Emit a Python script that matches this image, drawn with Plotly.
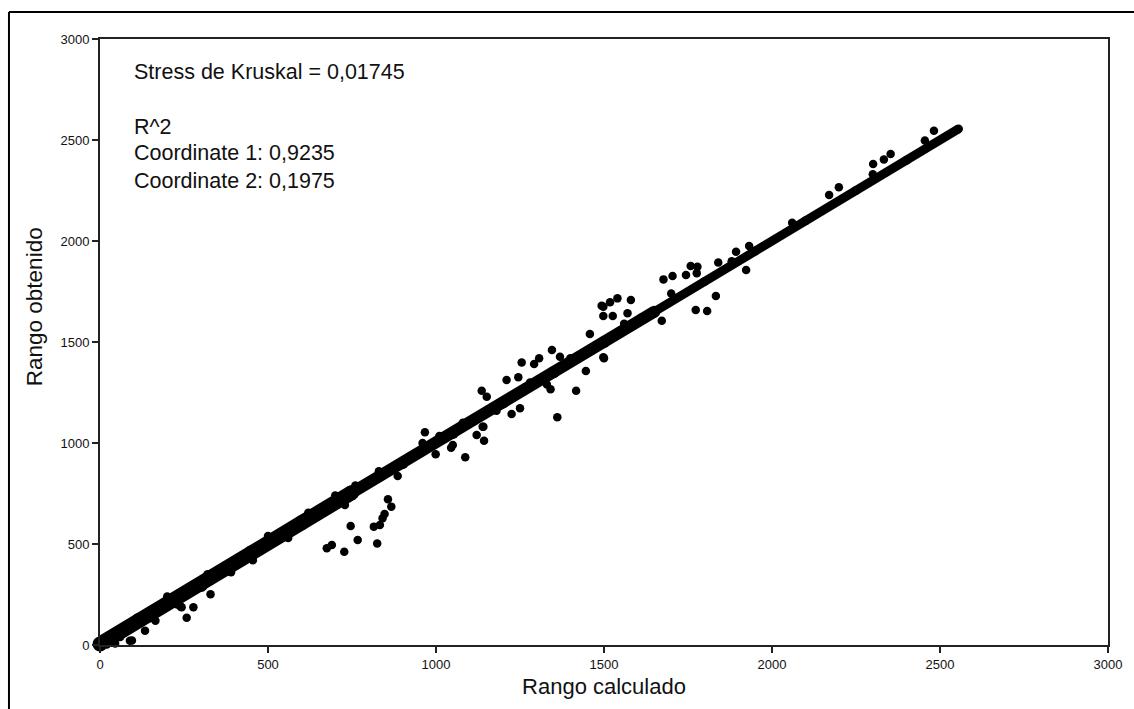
import plotly.graph_objects as go

# Dense diagonal band (centre line)
band_calc = [0, 150, 300, 450, 600, 750, 900, 1050, 1200, 1350, 1500, 1650, 1800, 1950, 2100, 2250, 2400, 2555]
band_obt = [5, 150, 300, 455, 605, 755, 900, 1050, 1200, 1350, 1500, 1650, 1800, 1950, 2100, 2250, 2400, 2555]

# Points at the edges of the band
edge_calc = [20, 45, 60, 95, 110, 165, 200, 230, 320, 390, 455, 500, 560, 620, 700, 760, 830, 960, 1010,
             1080, 1180, 1280, 1330, 1400, 1560, 1610, 1700, 1880, 2060, 2300]
edge_obt = [2, 8, 40, 22, 135, 120, 240, 200, 350, 360, 420, 540, 530, 655, 740, 790, 860, 1000, 1035,
            1100, 1160, 1300, 1290, 1420, 1590, 1620, 1740, 1900, 2090, 2330]

# Scattered points off the band
out_calc = [89, 134, 240, 243, 258, 278, 329,
            675, 690, 727, 746, 767, 815, 825, 833, 841, 847, 857, 867, 886, 729,
            967, 999, 1045, 1050, 1087, 1121, 1139, 1143, 1141, 1136, 1151, 1210, 1225, 1245, 1250,
            1255, 1292, 1307, 1345, 1369, 1341, 1417, 1361, 1446, 1458, 1500,
            1493, 1498, 1518, 1540, 1580, 1498, 1526, 1570, 1498,
            1677, 1704, 1744, 1758, 1776, 1778, 1840, 1893, 1932, 1923, 1833, 1773, 1807, 1672,
            2170, 2199, 2301, 2333, 2353, 2455, 2482]
out_obt = [21, 71, 190, 187, 135, 187, 251,
           479, 495, 462, 589, 520, 586, 503, 594, 627, 649, 721, 685, 837, 693,
           1053, 944, 977, 990, 929, 1040, 1081, 1011, 1081, 1259, 1229, 1312, 1144, 1325, 1172,
           1398, 1391, 1419, 1460, 1427, 1266, 1259, 1127, 1356, 1540, 1419,
           1680, 1675, 1697, 1716, 1708, 1629, 1629, 1642, 1424,
           1810, 1827, 1832, 1876, 1840, 1873, 1893, 1947, 1975, 1856, 1728, 1658, 1653, 1605,
           2228, 2266, 2381, 2404, 2431, 2497, 2546]

x_ticks = [0, 500, 1000, 1500, 2000, 2500, 3000]
y_ticks = [0, 500, 1000, 1500, 2000, 2500, 3000]

annot_lines = ["Stress de Kruskal = 0,01745", "R^2", "Coordinate 1: 0,9235", "Coordinate 2: 0,1975"]
x_title = "Rango calculado"
y_title = "Rango obtenido"

FONT = "Liberation Sans, Arial, sans-serif"
INK = "#111111"

fig = go.Figure()

segments = [(0, 6, 15), (4, 12, 12), (10, 18, 9)]
for a, b, w in segments:
    fig.add_trace(go.Scatter(
        x=band_calc[a:b], y=band_obt[a:b], mode="lines+markers",
        line=dict(color="black", width=w),
        marker=dict(color="black", size=w),
        hoverinfo="skip", showlegend=False, cliponaxis=False))

fig.add_trace(go.Scatter(
    x=edge_calc, y=edge_obt, mode="markers",
    marker=dict(color="black", size=8.5, line=dict(width=0)),
    showlegend=False, cliponaxis=False))

fig.add_trace(go.Scatter(
    x=out_calc, y=out_obt, mode="markers",
    marker=dict(color="black", size=8.5, line=dict(width=0)),
    showlegend=False, cliponaxis=False))

axis_common = dict(
    range=[0, 3000], showgrid=False, zeroline=False,
    showline=True, linecolor="#222222", linewidth=2, mirror=True,
    ticks="outside", ticklen=6, tickwidth=2, tickcolor="#222222",
    tickfont=dict(family=FONT, size=13, color=INK),
)
fig.update_xaxes(**axis_common, tickvals=x_ticks, ticktext=[str(v) for v in x_ticks],
                 title=dict(text=x_title, font=dict(family=FONT, size=22, color=INK), standoff=8))
fig.update_yaxes(**axis_common, tickvals=y_ticks, ticktext=[str(v) for v in y_ticks])

# y-axis title sits a little above the plot centre in the reference
fig.add_annotation(text=y_title, xref="paper", yref="paper", x=-0.0655, y=0.559,
                   xanchor="center", yanchor="middle", textangle=-90, showarrow=False,
                   font=dict(family=FONT, size=22.5, color=INK))

ys = [0.9455, 0.855, 0.812, 0.766]
for txt, yy in zip(annot_lines, ys):
    fig.add_annotation(text=txt, xref="paper", yref="paper", x=0.032, y=yy,
                       xanchor="left", yanchor="middle", showarrow=False,
                       font=dict(family=FONT, size=21.5, color=INK))

# outer frame (left and top edges visible)
fig.add_shape(type="line", xref="paper", yref="paper", x0=-0.0903, x1=-0.0903, y0=-0.2, y1=1.0446,
              line=dict(color="black", width=2))
fig.add_shape(type="line", xref="paper", yref="paper", x0=-0.0903, x1=1.05, y0=1.0446, y1=1.0446,
              line=dict(color="black", width=2))

fig.update_layout(
    width=1134, height=709,
    margin=dict(l=100, r=26, t=39, b=64),
    paper_bgcolor="white", plot_bgcolor="white",
    font=dict(family=FONT, color=INK),
)

fig.write_html("out.html")
